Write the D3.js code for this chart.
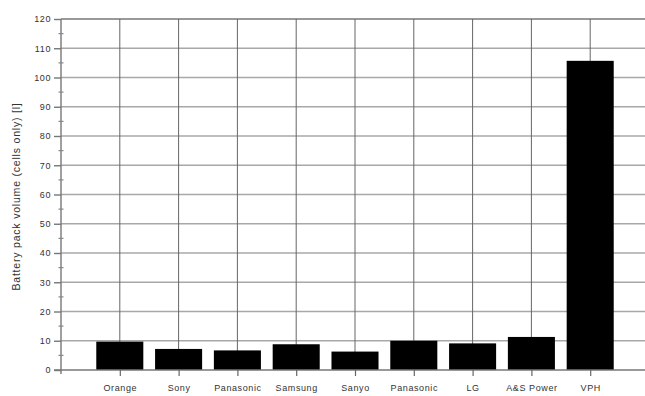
<!DOCTYPE html>
<html>
<head>
<meta charset="utf-8">
<script src="https://cdn.jsdelivr.net/npm/d3@7"></script>
<style>
  html, body { margin: 0; padding: 0; background: #fff; }
  svg { display: block; }
  text { font-family: "Liberation Sans", Arial, sans-serif; fill: #333; }
</style>
</head>
<body>
<svg id="chart" width="645" height="396"></svg>
<script>
// Battery pack volume per manufacturer (cells only), litres
const categories = ["Orange", "Sony", "Panasonic", "Samsung", "Sanyo", "Panasonic", "LG", "A&S Power", "VPH"];
const volumes = [9.7, 7.2, 6.7, 8.8, 6.3, 10.0, 9.1, 11.3, 105.7];
const yTicks = [0, 10, 20, 30, 40, 50, 60, 70, 80, 90, 100, 110, 120];
const yTitle = "Battery pack volume (cells only) [l]";

const svg = d3.select("#chart");

// positions along the x axis: category i sits at i + 1 on a 0..10 scale
const x = d3.scaleLinear().domain([0, 10]).range([61, 649]);
const y = d3.scaleLinear().domain([0, 120]).range([370, 19]);
const barHalf = 0.4;

// horizontal grid
svg.append("g")
  .selectAll("line")
  .data(yTicks.filter(d => d > 0))
  .join("line")
  .attr("x1", x(0)).attr("x2", x(10))
  .attr("y1", d => y(d)).attr("y2", d => y(d))
  .attr("stroke", d => d === 120 ? "#777" : "#a8a8a8")
  .attr("stroke-width", 1.6);

// vertical grid at each category
svg.append("g")
  .selectAll("line")
  .data(categories.map((c, i) => i + 1))
  .join("line")
  .attr("x1", d => x(d)).attr("x2", d => x(d))
  .attr("y1", y(0)).attr("y2", y(120))
  .attr("stroke", "#666")
  .attr("stroke-width", 1);

// bars
svg.append("g")
  .selectAll("rect")
  .data(volumes)
  .join("rect")
  .attr("x", (d, i) => x(i + 1 - barHalf))
  .attr("width", (d, i) => x(i + 1 + barHalf) - x(i + 1 - barHalf))
  .attr("y", d => y(d))
  .attr("height", d => y(0) - y(d))
  .attr("fill", "#000");

// y axis
const yAxis = d3.axisLeft(y)
  .tickValues(yTicks)
  .tickSize(7)
  .tickPadding(3)
  .tickFormat(d3.format("d"));
const gy = svg.append("g")
  .attr("transform", `translate(${x(0)},0)`)
  .call(yAxis);
gy.select(".domain").attr("stroke", "#777").attr("stroke-width", 1.4)
  .attr("d", `M0,${y(0) + 4}V${y(120)}`);
gy.selectAll(".tick line").attr("stroke", "#777").attr("stroke-width", 1.4);
gy.selectAll(".tick text")
  .style("font-size", "9px")
  .style("letter-spacing", "0.6px")
  .attr("fill", "#333");

// minor y ticks
svg.append("g")
  .selectAll("line")
  .data(d3.range(5, 120, 10))
  .join("line")
  .attr("x1", x(0) - 2.5).attr("x2", x(0) + 2.5)
  .attr("y1", d => y(d)).attr("y2", d => y(d))
  .attr("stroke", "#888")
  .attr("stroke-width", 1.2);

// x axis
const xAxis = d3.axisBottom(x)
  .tickValues(categories.map((c, i) => i + 1))
  .tickSize(6)
  .tickPadding(9)
  .tickFormat(d => categories[d - 1]);
const gx = svg.append("g")
  .attr("transform", `translate(0,${y(0)})`)
  .call(xAxis);
gx.select(".domain").attr("stroke", "#777").attr("stroke-width", 1.4)
  .attr("d", `M${x(0) - 7},0H${x(10)}`);
gx.selectAll(".tick line").attr("stroke", "#666").attr("stroke-width", 1.2);
gx.selectAll(".tick text")
  .style("font-size", "9px")
  .style("letter-spacing", "0.6px")
  .attr("fill", "#333");

// y axis title
svg.append("text")
  .attr("transform", `translate(20,${(y(0) + y(120)) / 2 + 2}) rotate(-90)`)
  .attr("text-anchor", "middle")
  .style("font-size", "10.5px")
  .style("letter-spacing", "0.8px")
  .text(yTitle);
</script>
</body>
</html>
